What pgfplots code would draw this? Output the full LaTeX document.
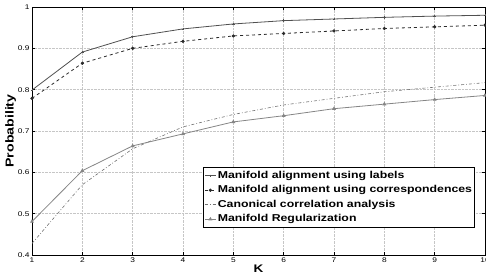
\documentclass[border=0pt]{standalone}
\usepackage{pgfplots}
\pgfplotsset{compat=1.18}
\usepackage{fontspec}
\setmainfont{Liberation Sans}[FakeStretch=1.23]
\definecolor{cLab}{HTML}{505050}
\definecolor{cCor}{HTML}{2A2A2A}
\definecolor{cCCA}{HTML}{707070}
\definecolor{cMR}{HTML}{858585}
\begin{document}
\begin{tikzpicture}
\begin{axis}[
  scale only axis,
  width=453pt, height=248pt,
  xmin=1, xmax=10, ymin=0.4, ymax=1,
  xtick={1,...,10},
  ytick={0.4,0.5,0.6,0.7,0.8,0.9,1},
  yticklabels={0.4,0.5,0.6,0.7,0.8,0.9,1},
  tick align=inside,
  major tick length=3pt,
  tick style={black, line width=0.6pt},
  axis line style={black, line width=1pt},
  grid=major,
  grid style={densely dotted, gray!45, line width=0.5pt},
  /pgf/number format/assume math mode=true,
  tick label style={font=\fontsize{6.8}{7}\selectfont},
  xticklabel style={yshift=1pt},
  yticklabel style={xshift=1pt},
  xlabel={\bfseries K},
  ylabel={\bfseries Probability},
  xlabel style={font=\fontsize{11}{12}\selectfont, yshift=4pt},
  ylabel style={font=\fontsize{11.5}{12}\selectfont, yshift=-5pt},
  legend style={at={(rel axis cs:0.978,0.355)}, anchor=north east,
    draw=black, line width=1pt, fill=white,
    font=\fontsize{10}{12}\selectfont\bfseries,
    inner sep=1pt, row sep=0pt,
    nodes={inner sep=1.5pt, text height=8.5pt, text depth=3pt}},
  legend cell align=left,
  legend image code/.code={\draw[#1] (0pt,0pt) -- (11pt,0pt); \draw[#1, only marks] plot coordinates {(5.5pt,0pt)};},
]
\addplot[cLab, line width=0.8pt, mark=+, mark size=1.2pt] coordinates {
(1,0.799) (2,0.891) (3,0.928) (4,0.947) (5,0.959) (6,0.967) (7,0.971) (8,0.975) (9,0.978) (10,0.980)};
\addlegendentry{Manifold alignment using labels}
\addplot[cCor, line width=0.8pt, dashed, mark=*, mark size=1.2pt, mark options={solid}] coordinates {
(1,0.779) (2,0.864) (3,0.900) (4,0.917) (5,0.930) (6,0.936) (7,0.942) (8,0.948) (9,0.952) (10,0.956)};
\addlegendentry{Manifold alignment using correspondences}
\addplot[cCCA, line width=0.6pt, dash pattern=on 3pt off 2pt on 0.8pt off 2pt] coordinates {
(1,0.428) (2,0.570) (3,0.657) (4,0.710) (5,0.740) (6,0.763) (7,0.779) (8,0.795) (9,0.806) (10,0.817)};
\addlegendentry{Canonical correlation analysis}
\addplot[cMR, line width=0.8pt, mark=triangle*, mark size=1.5pt] coordinates {
(1,0.481) (2,0.604) (3,0.664) (4,0.693) (5,0.722) (6,0.737) (7,0.754) (8,0.765) (9,0.776) (10,0.786)};
\addlegendentry{Manifold Regularization}
\end{axis}
\pgfresetboundingbox
\path (current axis.south west) ++(-32pt,-21pt) coordinate (bbA);
\path (current axis.north east) ++(1pt,7pt) coordinate (bbB);
\useasboundingbox (bbA) rectangle (bbB);
\end{tikzpicture}
\end{document}
